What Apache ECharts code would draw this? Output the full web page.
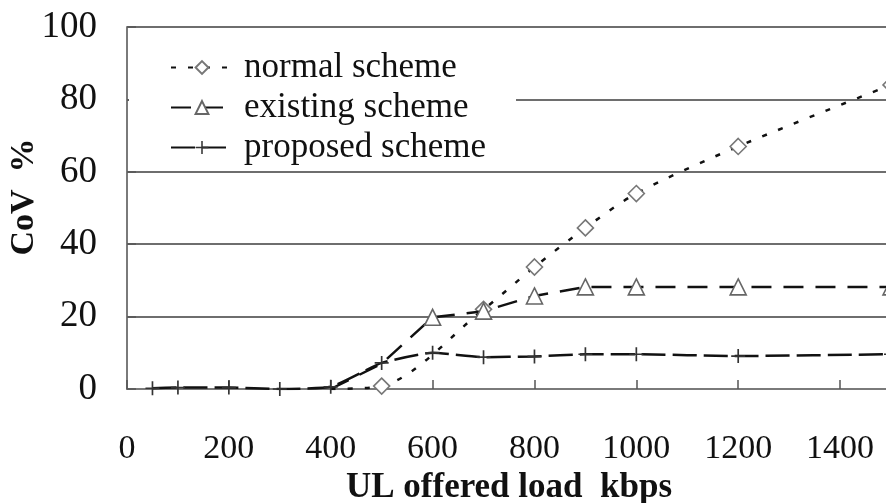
<!DOCTYPE html>
<html>
<head>
<meta charset="utf-8">
<script src="https://cdn.jsdelivr.net/npm/echarts@6/dist/echarts.min.js"></script>
<style>html,body{margin:0;padding:0;background:#fff;}#c{width:886px;height:503px;}</style>
</head>
<body>
<div id="c"></div>
<script>
// ---- data ----
const seriesNames = ['normal scheme', 'existing scheme', 'proposed scheme'];
const normalX = [400, 500, 700, 800, 900, 1000, 1200, 1500];
const normalY = [0, 0.8, 22, 33.7, 44.5, 54, 67, 84];
const normalNoMarker = [400];
const existingX = [400, 500, 600, 700, 800, 900, 1000, 1200, 1500];
const existingY = [0, 7, 19.8, 21.5, 25.7, 28.2, 28.2, 28.2, 28.2];
const existingNoMarker = [400, 500];
const proposedX = [50, 100, 200, 300, 400, 500, 600, 700, 800, 900, 1000, 1200, 1500];
const proposedY = [0.2, 0.4, 0.4, 0, 0.6, 7.2, 10, 8.8, 9, 9.6, 9.6, 9.1, 9.6];
const xTicks = [0, 200, 400, 600, 800, 1000, 1200, 1400];
const yTicks = [0, 20, 40, 60, 80, 100];
const xTitle = 'UL offered load  kbps';
const yTitle = 'CoV  %';

function pts(xs, ys, noMarker) {
  return xs.map((x, i) => noMarker.indexOf(x) >= 0
    ? { value: [x, ys[i]], symbol: 'none' }
    : [x, ys[i]]);
}

const FONT = 'Liberation Serif';
const plusPath = 'path://M4.4,0H5.6V4.4H10V5.6H5.6V10H4.4V5.6H0V4.4H4.4Z';

const chart = echarts.init(document.getElementById('c'));
chart.setOption({
  animation: false,
  backgroundColor: '#fff',
  grid: { left: 127, right: -5, top: 27, bottom: 114, outerBoundsMode: 'none', containLabel: false },
  legend: {
    data: seriesNames,
    orient: 'vertical',
    left: 129, top: 42,
    backgroundColor: '#fff',
    padding: [8, 30, 0, 41],
    itemWidth: 62, itemHeight: 16, itemGap: 5,
    textStyle: { fontFamily: FONT, fontSize: 35, color: '#111', padding: [0, 0, 0, 6] }
  },
  xAxis: {
    type: 'value', min: xTicks[0], max: 1500, interval: 200,
    name: xTitle, nameLocation: 'middle', nameGap: 81,
    nameTextStyle: { fontFamily: FONT, fontSize: 35, fontWeight: 'bold', color: '#111' },
    axisLine: { show: true, lineStyle: { color: '#7a7a7a', width: 2 } },
    axisTick: { show: true, inside: true, length: 9, lineStyle: { color: '#555', width: 1.5 } },
    axisLabel: { fontFamily: FONT, fontSize: 34, color: '#111', margin: 43, showMaxLabel: false,
      formatter: v => xTicks.indexOf(v) >= 0 ? String(v) : '' },
    splitLine: { show: false }
  },
  yAxis: {
    type: 'value', min: yTicks[0], max: yTicks[yTicks.length - 1], interval: 20,
    name: yTitle, nameLocation: 'middle', nameGap: 86, nameMoveOverlap: false,
    nameTextStyle: { fontFamily: FONT, fontSize: 34, fontWeight: 'bold', color: '#111', padding: [0, 0, 0, 22] },
    axisLine: { show: true, lineStyle: { color: '#7a7a7a', width: 2 } },
    axisTick: { show: true, inside: true, length: 9, lineStyle: { color: '#555', width: 1.5 } },
    axisLabel: { fontFamily: FONT, fontSize: 37, color: '#111', margin: 30 },
    splitLine: { show: true, lineStyle: { color: '#6e6e6e', width: 2 } }
  },
  series: [
    {
      name: seriesNames[0], type: 'line', smooth: 0.3, z: 3,
      data: pts(normalX, normalY, normalNoMarker),
      symbol: 'diamond', symbolSize: 16,
      lineStyle: { color: '#111', width: 2.5, type: [5, 12] },
      itemStyle: { color: '#fff', borderColor: '#777', borderWidth: 1.6 }
    },
    {
      name: seriesNames[1], type: 'line', z: 4,
      data: pts(existingX, existingY, existingNoMarker),
      symbol: 'triangle', symbolSize: 16,
      lineStyle: { color: '#111', width: 2.5, type: [20, 12] },
      itemStyle: { color: '#fff', borderColor: '#666', borderWidth: 1.6 }
    },
    {
      name: seriesNames[2], type: 'line', smooth: 0.15, z: 5,
      data: pts(proposedX, proposedY, []),
      symbol: plusPath, symbolSize: 14,
      lineStyle: { color: '#111', width: 2.5, type: [24, 7] },
      itemStyle: { color: '#333', borderWidth: 0 }
    }
  ]
});
</script>
</body>
</html>
